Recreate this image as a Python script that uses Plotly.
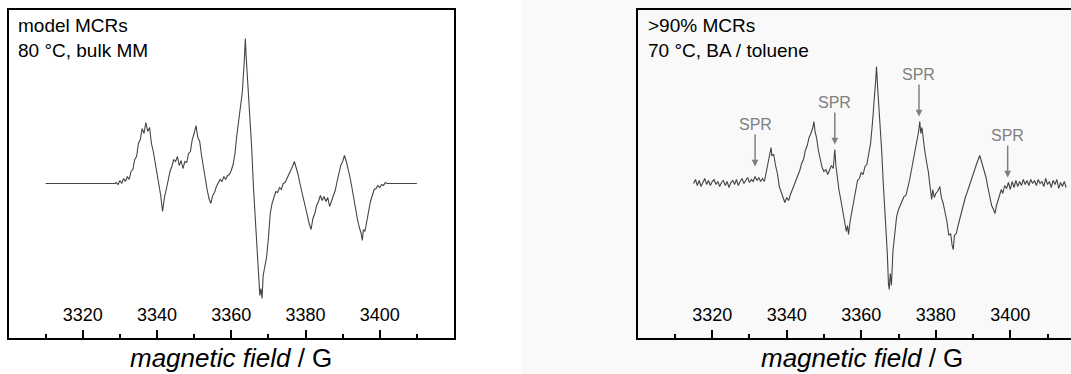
import plotly.graph_objects as go

# ---------------- data ----------------
# left panel: model MCRs, 80 °C, bulk MM  (field / G, intensity / a.u.)
left_field = [3310.0, 3328.7,
    3329.0, 3329.5, 3330.0, 3330.5, 3331.0, 3331.5, 3332.0, 3332.5, 3333.0, 3333.5,
    3334.0, 3334.5, 3335.0, 3335.5, 3336.0, 3336.5, 3337.0, 3337.5, 3338.0, 3338.5,
    3339.0, 3339.5, 3340.0, 3340.5, 3341.0, 3341.5, 3342.0, 3342.5, 3343.0, 3343.5,
    3344.0, 3344.5, 3345.0, 3345.5, 3346.0, 3346.5, 3347.0, 3347.5, 3348.0, 3348.5,
    3349.0, 3349.5, 3350.0, 3350.5, 3351.0, 3351.5, 3352.0, 3352.5, 3353.0, 3353.5,
    3354.0, 3354.5, 3355.0, 3355.5, 3356.0, 3356.5, 3357.0, 3357.5, 3358.0, 3358.5,
    3359.0, 3359.5, 3360.0, 3360.5, 3361.0, 3361.5, 3362.0, 3362.5, 3363.0, 3363.5,
    3363.8, 3364.0, 3364.3, 3364.6, 3365.0, 3365.5, 3366.0, 3366.5, 3367.0, 3367.4,
    3367.7, 3368.0, 3368.3, 3368.6, 3369.0, 3369.5, 3370.0, 3370.5, 3371.0, 3371.5,
    3372.0, 3372.5, 3373.0, 3373.5, 3374.0, 3374.5, 3375.0, 3375.5, 3376.0, 3376.5,
    3377.0, 3377.5, 3378.0, 3378.5, 3379.0, 3379.5, 3380.0, 3380.5, 3381.0, 3381.5,
    3382.0, 3382.5, 3383.0, 3383.5, 3384.0, 3384.5, 3385.0, 3385.5, 3386.0, 3386.5,
    3387.0, 3387.5, 3388.0, 3388.5, 3389.0, 3389.5, 3390.0, 3390.5, 3391.0, 3391.5,
    3392.0, 3392.5, 3393.0, 3393.5, 3394.0, 3394.5, 3395.0, 3395.3, 3395.6, 3396.0,
    3396.5, 3397.0, 3397.5, 3398.0, 3398.5, 3399.0, 3399.5, 3400.0, 3400.5, 3401.0,
    3401.5, 3402.0, 3410.0]
left_signal = [0, 0,
    1, -1, 3, 0, 5, 2, 7, 4, 12, 14,
    24, 27, 40, 44, 55, 50, 61, 52, 56, 40,
    32, 22, 12, 0, -12, -28, -14, -6, 4, 12,
    17, 24, 22, 27, 18, 23, 15, 22, 21, 30,
    32, 44, 50, 58, 46, 42, 28, 15, 3, -6,
    -15, -20, -12, -9, -3, 0, 4, 2, 7, 4,
    8, 9, 13, 19, 30, 48, 64, 76, 92, 122,
    145, 128, 110, 96, 70, 36, -5, -40, -72, -100,
    -112, -105, -115, -92, -85, -74, -55, -30, -20, -14,
    -8, -9, -4, -6, 0, 1, 5, 8, 13, 17,
    22, 16, 9, 0, -8, -18, -27, -35, -40, -46,
    -35, -30, -22, -18, -12, -17, -13, -18, -14, -23,
    -18, -12, -7, 2, 10, 18, 22, 28, 22, 15,
    6, -4, -16, -27, -36, -44, -50, -57, -46, -48,
    -36, -28, -18, -12, -6, -5, -2, -4, -1, -2,
    1, 0, 0]

# right panel: >90% MCRs, 70 °C, BA / toluene
right_field = [
    3315.0, 3315.5, 3316.0, 3316.5, 3317.0, 3317.5, 3318.0, 3318.5, 3319.0, 3319.5,
    3320.0, 3320.5, 3321.0, 3321.5, 3322.0, 3322.5, 3323.0, 3323.5, 3324.0, 3324.5,
    3325.0, 3325.5, 3326.0, 3326.5, 3327.0, 3327.5, 3328.0, 3328.5, 3329.0, 3329.5,
    3330.0, 3330.5, 3331.0, 3331.5, 3332.0, 3332.5, 3333.0, 3333.5, 3334.0, 3334.5,
    3335.0, 3335.5, 3335.8, 3336.0, 3336.5, 3337.0, 3337.5, 3338.0, 3338.5, 3339.0,
    3339.5, 3340.0, 3340.5, 3341.0, 3341.5, 3342.0, 3342.5, 3343.0, 3343.5, 3344.0,
    3344.5, 3345.0, 3345.5, 3346.0, 3346.5, 3347.0, 3347.3, 3347.6, 3348.0, 3348.5,
    3349.0, 3349.5, 3350.0, 3350.5, 3351.0, 3351.5, 3352.0, 3352.5, 3352.9, 3353.2,
    3353.5, 3354.0, 3354.5, 3355.0, 3355.5, 3356.0, 3356.3, 3356.6, 3357.0, 3357.5,
    3358.0, 3358.5, 3359.0, 3359.5, 3360.0, 3360.5, 3361.0, 3361.5, 3362.0, 3362.5,
    3363.0, 3363.3, 3363.6, 3363.9, 3364.1, 3364.4, 3364.7, 3365.0, 3365.5, 3365.9,
    3366.3, 3366.6, 3367.0, 3367.3, 3367.5, 3367.8, 3368.1, 3368.5, 3369.0, 3369.5,
    3370.0, 3370.5, 3371.0, 3371.5, 3372.0, 3372.5, 3373.0, 3373.5, 3374.0, 3374.5,
    3375.0, 3375.4, 3375.7, 3376.0, 3376.3, 3376.6, 3377.0, 3377.5, 3378.0, 3378.5,
    3378.9, 3379.2, 3379.6, 3380.0, 3380.5, 3381.1, 3381.5, 3382.0, 3382.5, 3383.0,
    3383.5, 3384.0, 3384.4, 3384.7, 3385.0, 3385.5, 3386.0, 3386.5, 3387.0, 3387.5,
    3388.0, 3388.5, 3389.0, 3389.5, 3390.0, 3390.5, 3391.0, 3391.5, 3391.8, 3392.2,
    3392.6, 3393.0, 3393.5, 3394.0, 3394.5, 3395.0, 3395.5, 3395.9, 3396.3, 3396.7,
    3397.2, 3397.6, 3398.0, 3398.5, 3399.0, 3399.5, 3400.0, 3400.5, 3401.0, 3401.5,
    3402.0, 3402.5, 3403.0, 3403.5, 3404.0, 3404.5, 3405.0, 3405.5, 3406.0, 3406.5,
    3407.0, 3407.5, 3408.0, 3408.5, 3409.0, 3409.5, 3410.0, 3410.5, 3411.0, 3411.5,
    3412.0, 3412.5, 3413.0, 3413.5, 3414.0, 3414.5, 3415.0]
right_signal = [
    0, 4, -2, 3, -3, 2, 5, -1, 3, -2,
    2, 4, -1, 2, -3, 1, 3, -2, 2, -4,
    1, 3, -1, 4, -2, 2, 5, 0, 3, 6,
    1, 4, 2, 7, 3, 6, 2, 5, 2, 12,
    22, 34, 36, 28, 29, 18, 10, -3, -8, -15,
    -19, -14, -17, -11, -6, -3, 2, 8, 13, 20,
    24, 33, 38, 46, 50, 56, 62, 52, 46, 33,
    24, 16, 12, 14, 9, 14, 18, 15, 34, 18,
    6, -6, -16, -26, -36, -48, -42, -51, -38, -28,
    -20, -8, 3, 5, 11, 9, 17, 19, 28, 40,
    60, 72, 90, 104, 117, 96, 80, 66, 32, 1,
    -22, -39, -70, -100, -106, -90, -102, -68, -50, -33,
    -26, -21, -17, -13, -12, -5, 4, 14, 24, 32,
    42, 52, 62, 50, 56, 44, 34, 22, 12, -4,
    -16, -6, -14, -10, -8, -3, -14, -20, -28, -38,
    -52, -50, -62, -66, -52, -50, -42, -34, -26, -18,
    -13, -8, -2, 4, 10, 14, 20, 25, 28, 23,
    18, 13, 6, -4, -13, -22, -26, -30, -22, -17,
    -9, -6, -10, -2, -5, 1, -6, 2, -4, 3,
    -3, 2, -2, 4, -1, 3, -2, 4, 0, 3,
    -2, 4, 0, 2, -3, 5, -1, 2, -4, 3,
    -1, 4, -5, 1, -3, 2, -4]

# SPR markers (right panel): field position and curve height at arrow tip
spr_field = [3331.5, 3352.9, 3375.5, 3399.3]
spr_tip = [17, 39, 67, 6]
spr_label = ["SPR", "SPR", "SPR", "SPR"]

major_ticks = [3320, 3340, 3360, 3380, 3400]
minor_ticks = [3310, 3330, 3350, 3370, 3390, 3410]

panel_titles = ["model MCRs<br>80 °C, bulk MM", ">90% MCRs<br>70 °C, BA / toluene"]
axis_title = "<i>magnetic field</i> / G"

# ---------------- figure ----------------
W, H = 1071, 374
FONT = "Liberation Sans, Arial, sans-serif"
LINE_COLOR = "#444444"

def px(v):
    return v / W

def py(v):
    return 1 - v / H

fig = go.Figure()
fig.add_trace(go.Scatter(x=left_field, y=left_signal, mode="lines",
                         line=dict(color=LINE_COLOR, width=1.1), xaxis="x", yaxis="y",
                         showlegend=False, hoverinfo="skip"))
fig.add_trace(go.Scatter(x=right_field, y=right_signal, mode="lines",
                         line=dict(color=LINE_COLOR, width=1.1), xaxis="x2", yaxis="y2",
                         showlegend=False, hoverinfo="skip"))

ydom = [py(338), py(9.5)]
yrange = [-154.5, 174]

def xaxis_common(domain, rng, anchor):
    return dict(domain=domain, range=rng, anchor=anchor,
                showline=True, linecolor="black", linewidth=2, mirror=True,
                showgrid=False, zeroline=False,
                tickmode="array", tickvals=major_ticks,
                ticks="inside", ticklen=8, tickwidth=2, tickcolor="black",
                ticklabelposition="inside", ticklabelstandoff=6,
                tickfont=dict(family=FONT, size=18, color="black"),
                minor=dict(tickvals=minor_ticks, ticks="inside", ticklen=4,
                           tickwidth=2, tickcolor="black", showgrid=False))

fig.update_layout(
    width=W, height=H, autosize=False,
    margin=dict(l=0, r=0, t=0, b=0, pad=0),
    paper_bgcolor="white", plot_bgcolor="rgba(0,0,0,0)",
    font=dict(family=FONT, color="black"),
    xaxis=xaxis_common([px(8.5), px(454)], [3300, 3420], "y"),
    xaxis2=xaxis_common([px(637.7), 1.0], [3300, 3416.3], "y2"),
    yaxis=dict(domain=ydom, range=yrange, anchor="x", showline=True, linecolor="black",
               linewidth=2, mirror=True, showticklabels=False, ticks="",
               showgrid=False, zeroline=False),
    yaxis2=dict(domain=ydom, range=yrange, anchor="x2", showline=True, linecolor="black",
                linewidth=2, mirror=False, showticklabels=False, ticks="",
                showgrid=False, zeroline=False),
    shapes=[dict(type="rect", xref="paper", yref="paper", x0=px(521), x1=1.0,
                 y0=0, y1=1, fillcolor="#f9f9f9", line=dict(width=0), layer="below")],
)

ann = []
# panel titles
for txt, xl in zip(panel_titles, [16, 646]):
    ann.append(dict(text=txt, xref="paper", yref="paper", x=px(xl), y=py(13),
                    xanchor="left", yanchor="top", align="left", showarrow=False,
                    font=dict(family=FONT, size=19, color="black")))
# axis titles
for xc in [231, 861.5]:
    ann.append(dict(text=axis_title, xref="paper", yref="paper", x=px(xc), y=py(358),
                    xanchor="center", yanchor="middle", showarrow=False,
                    font=dict(family=FONT, size=26, color="black")))
# SPR arrows
for f, t, lab in zip(spr_field, spr_tip, spr_label):
    ann.append(dict(text=lab, xref="x2", yref="y2", x=f, y=t, ax=0, ay=-42,
                    showarrow=True, arrowhead=2, arrowsize=0.9, arrowwidth=1.5,
                    arrowcolor="#808080",
                    font=dict(family=FONT, size=16, color="#808080")))
fig.update_layout(annotations=ann)

fig.write_html("out.html")
